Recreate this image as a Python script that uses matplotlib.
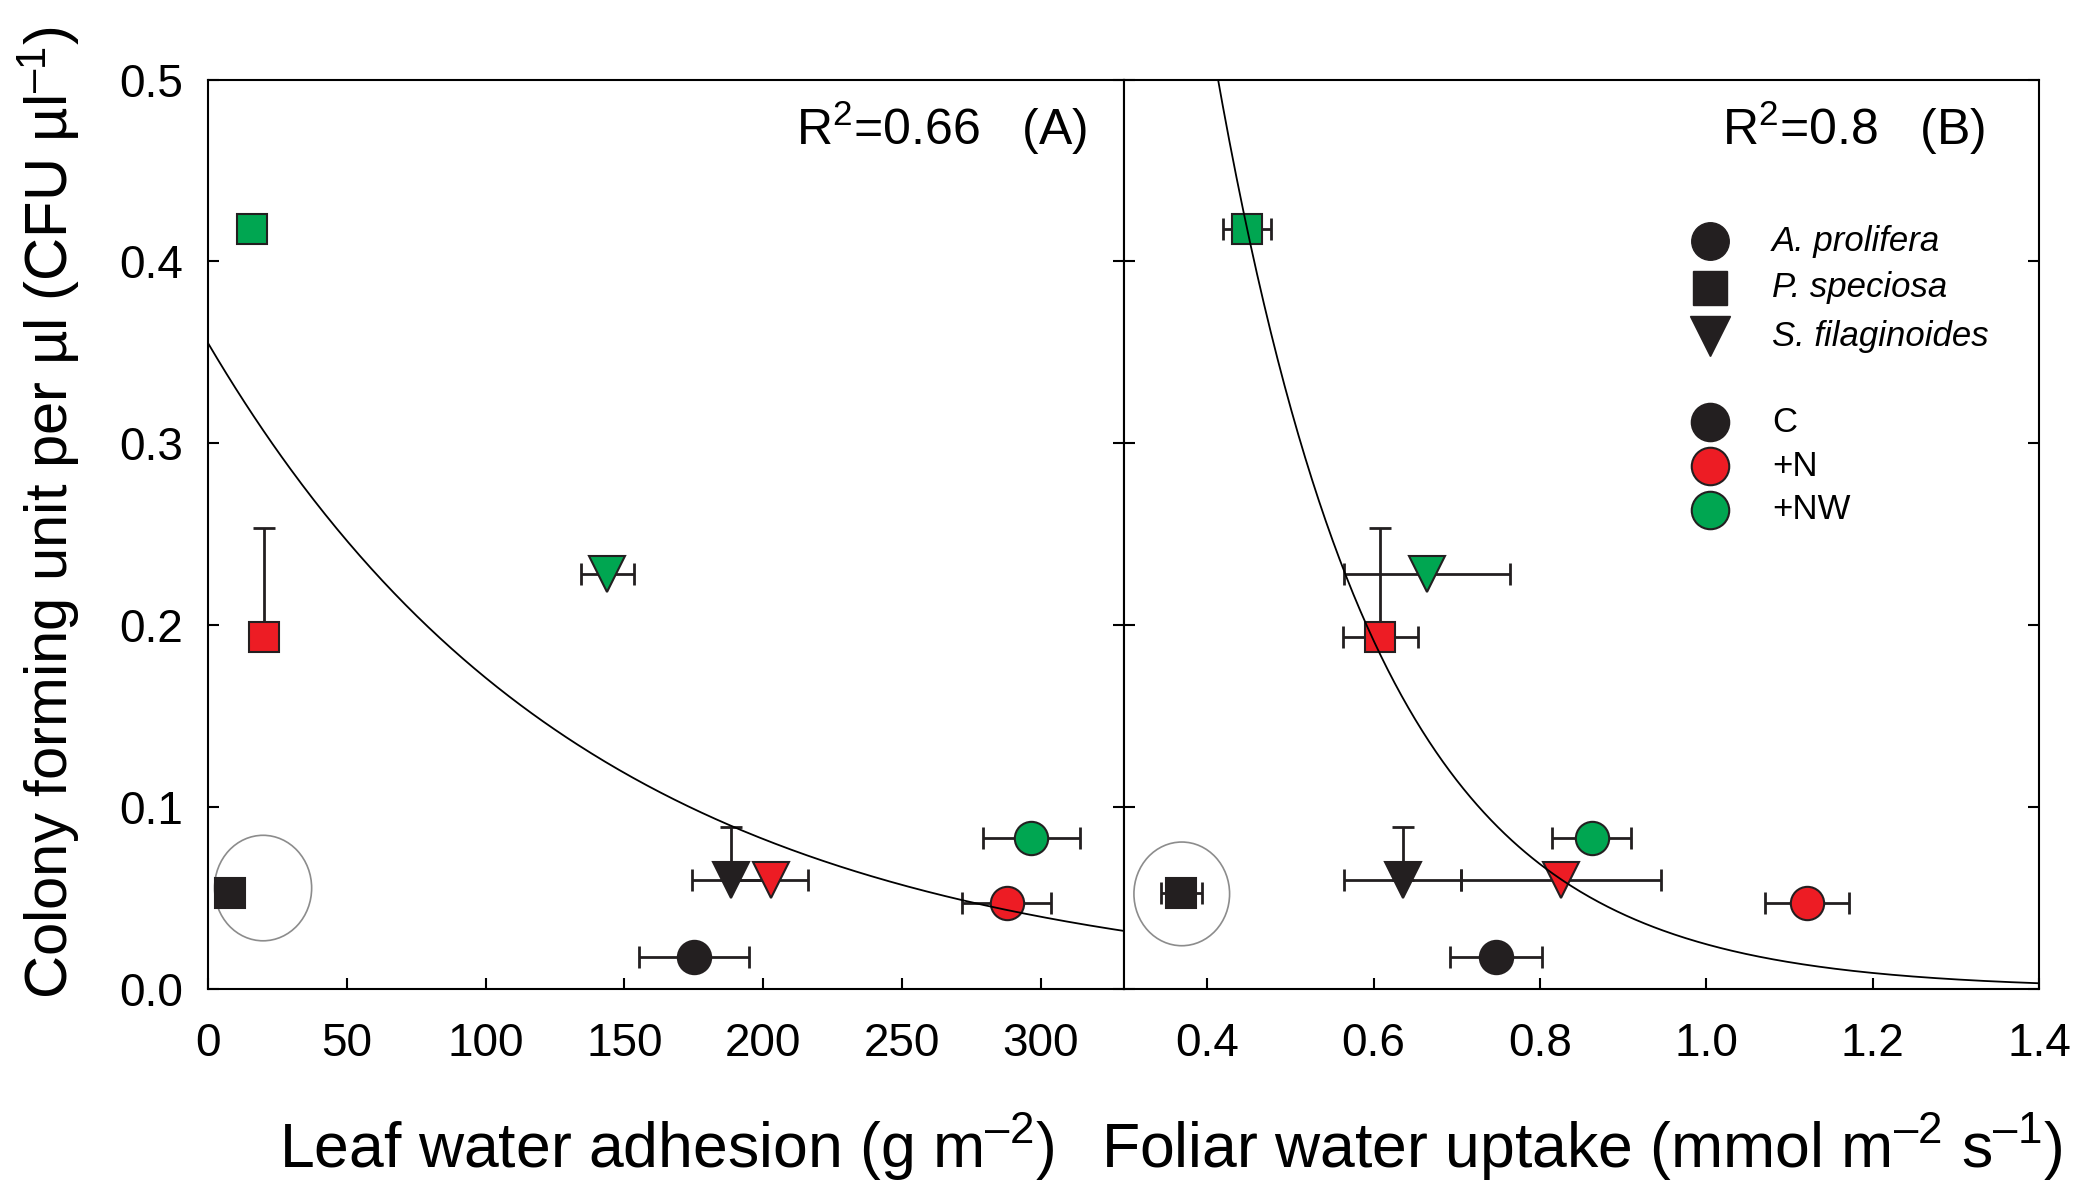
import numpy as np
import matplotlib
matplotlib.use("Agg")
from matplotlib import pyplot as plt
from matplotlib.patches import Ellipse

plt.rcParams['font.family'] = ['Liberation Sans', 'DejaVu Sans']
plt.rcParams['mathtext.fontset'] = 'custom'
plt.rcParams['mathtext.rm'] = 'Liberation Sans'
plt.rcParams['mathtext.it'] = 'Liberation Sans:italic'
plt.rcParams['mathtext.default'] = 'regular'

# order: A. prolifera (C, +N, +NW), P. speciosa (C, +N, +NW), S. filaginoides (C, +N, +NW)
species = ['A. prolifera', 'P. speciosa', 'S. filaginoides']
treatments = ['C', '+N', '+NW']
species_markers = ['o', 's', 'v']
treatment_colors = ['#231f20', '#ed1c24', '#00a651']

cfu = [0.0178, 0.0474, 0.0828,
       0.0530, 0.1937, 0.4180,
       0.0600, 0.0600, 0.2281]
cfu_err = [0, 0, 0,
           0, 0.0596, 0.0080,
           0.0290, 0, 0]

adhesion = [175.1, 287.8, 296.6,
            8.0, 20.0, 15.8,
            188.3, 202.7, 143.8]
adhesion_err = [19.8, 16.0, 17.4,
                0, 0, 0,
                14.0, 13.6, 9.5]

uptake = [0.747, 1.121, 0.862,
          0.369, 0.608, 0.448,
          0.635, 0.825, 0.664]
uptake_err = [0.055, 0.051, 0.047,
              0.025, 0.045, 0.029,
              0.070, 0.120, 0.100]

# exponential fits y = a * exp(-b * x)
fit_a = [0.355, 4.16]
fit_b = [0.0073, 5.13]
r2_labels = [r'R$^2$=0.66   (A)', r'R$^2$=0.8   (B)']

# grey circle marking the outlier (P. speciosa C)
outlier_a = (19.8, 0.0555, 35.0, 0.058)
outlier_b = (0.3694, 0.0523, 0.115, 0.057)

marker_sizes = {'o': 24, 's': 22, 'v': 26}
DASH = '\u2013'


def draw_panel(ax, xs, xerrs, a, b, xmax, xmin):
    for i in range(len(xs)):
        m = species_markers[i // 3]
        c = treatment_colors[i % 3]
        xe = xerrs[i] if xerrs[i] > 0 else None
        ye = [[0], [cfu_err[i]]] if cfu_err[i] > 0 else None
        if xe is not None or ye is not None:
            ax.errorbar(xs[i], cfu[i], xerr=xe, yerr=ye, fmt='none',
                        ecolor='#231f20', elinewidth=2, capsize=8,
                        capthick=2, zorder=2)
        ax.plot(xs[i], cfu[i], marker=m, color=c, markersize=marker_sizes[m],
                markeredgecolor='#231f20', markeredgewidth=1.5,
                linestyle='none', zorder=3)
    xx = np.linspace(xmin, xmax, 400)
    ax.plot(xx, a * np.exp(-b * xx), color='black', linewidth=1.3, zorder=4)


fig = plt.figure(figsize=(20.75, 11.87), dpi=100)
axA = fig.add_axes([0.1003, 0.1668, 0.4414, 0.7662])
axB = fig.add_axes([0.5417, 0.1668, 0.4410, 0.7662])

draw_panel(axA, adhesion, adhesion_err, fit_a[0], fit_b[0], 330, 0)
draw_panel(axB, uptake, uptake_err, fit_a[1], fit_b[1], 1.4, 0.3)

axA.add_patch(Ellipse(outlier_a[:2], outlier_a[2], outlier_a[3], fill=False,
                      edgecolor='#8c8c8c', linewidth=1.2, zorder=1))
axB.add_patch(Ellipse(outlier_b[:2], outlier_b[2], outlier_b[3], fill=False,
                      edgecolor='#8c8c8c', linewidth=1.2, zorder=1))

axA.set_xlim(0, 330)
axA.set_xticks([0, 50, 100, 150, 200, 250, 300])
axB.set_xlim(0.3, 1.4)
axB.set_xticks([0.4, 0.6, 0.8, 1.0, 1.2, 1.4])
axB.set_xticklabels(['0.4', '0.6', '0.8', '1.0', '1.2', '1.4'])

for ax in (axA, axB):
    ax.set_ylim(0, 0.5)
    ax.set_yticks([0, 0.1, 0.2, 0.3, 0.4, 0.5])
    ax.tick_params(direction='in', length=8, width=1.5, labelsize=33,
                   top=False, right=True, left=True, bottom=True)
    ax.tick_params(axis='x', pad=24)
    ax.tick_params(axis='y', pad=18)
    for sp in ax.spines.values():
        sp.set_linewidth(1.5)

axA.set_yticklabels(['0.0', '0.1', '0.2', '0.3', '0.4', '0.5'])
axB.tick_params(labelleft=False)

axA.text(0.9596, 0.928, r2_labels[0], transform=axA.transAxes,
         ha='right', va='baseline', fontsize=36)
axB.text(0.941, 0.928, r2_labels[1], transform=axB.transAxes,
         ha='right', va='baseline', fontsize=36)

# legend, drawn by hand to keep the gap between the two groups
leg_x, txt_x = 0.6404, 0.708
leg_rows = [0.822, 0.771, 0.718]
for s in range(3):
    m = species_markers[s]
    axB.plot(leg_x, leg_rows[s], marker=m, color='#231f20',
             markersize=marker_sizes[m] + 3, transform=axB.transAxes,
             linestyle='none', clip_on=False)
    axB.text(txt_x, leg_rows[s], species[s], transform=axB.transAxes,
             ha='left', va='center', fontsize=25, style='italic')
treat_rows = [0.623, 0.575, 0.527]
for t in range(3):
    axB.plot(leg_x, treat_rows[t], marker='o', color=treatment_colors[t],
             markersize=27, markeredgecolor='#231f20', markeredgewidth=1.5,
             transform=axB.transAxes, linestyle='none', clip_on=False)
    axB.text(txt_x, treat_rows[t], treatments[t], transform=axB.transAxes,
             ha='left', va='center', fontsize=25)

fig.text(0.321, 0.016, 'Leaf water adhesion (g m$^{' + DASH + '2}$)',
         ha='center', va='baseline', fontsize=45)
fig.text(0.762, 0.016,
         'Foliar water uptake (mmol m$^{' + DASH + '2}$ s$^{' + DASH + '1}$)',
         ha='center', va='baseline', fontsize=45)
fig.text(0.0236, 0.158, 'Colony forming unit per µl (CFU µl$^{' + DASH + '1}$)',
         rotation=90, ha='center', va='bottom', fontsize=43)

fig.savefig('out.png', dpi=100)
